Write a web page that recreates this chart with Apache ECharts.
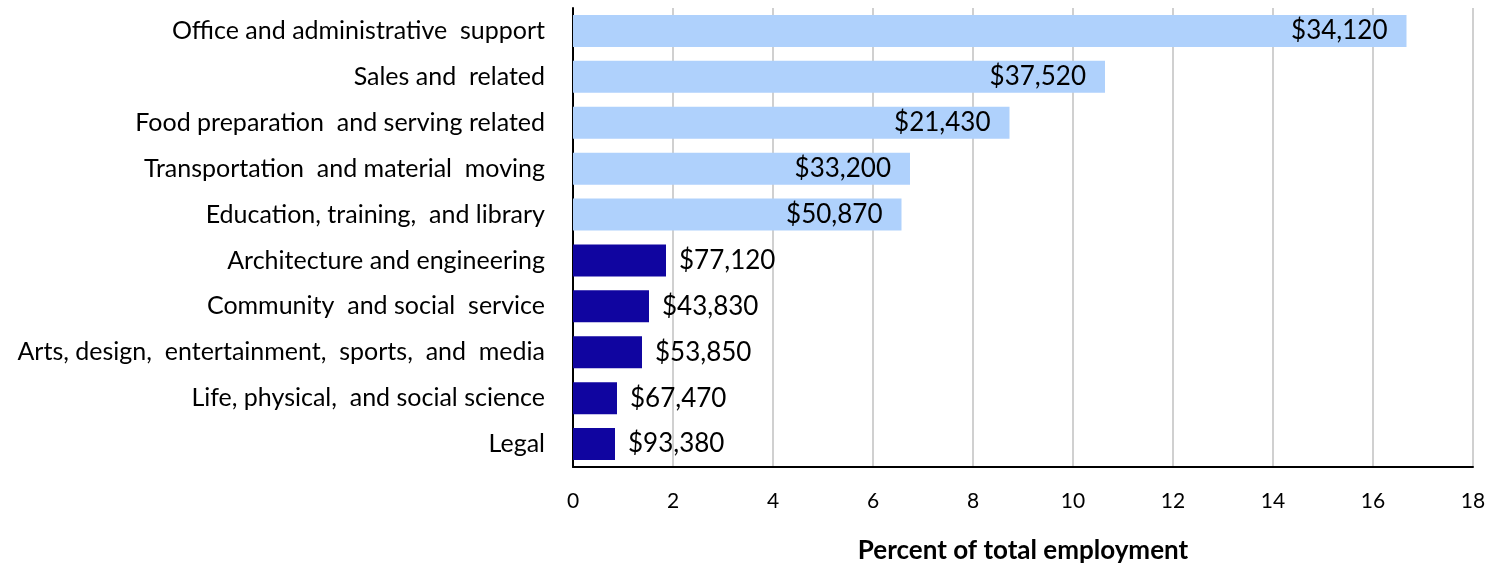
<!DOCTYPE html>
<html>
<head>
<meta charset="utf-8">
<script src="https://cdn.jsdelivr.net/npm/echarts@6/dist/echarts.min.js"></script>
<style>
html,body{margin:0;padding:0;background:#fff;}
#chart{width:1499px;height:569px;}
</style>
</head>
<body>
<div id="chart"></div>
<script>
const categories = [
  'Office and administrative  support',
  'Sales and  related',
  'Food preparation  and serving related',
  'Transportation  and material  moving',
  'Education, training,  and library',
  'Architecture and engineering',
  'Community  and social  service',
  'Arts, design,  entertainment,  sports,  and  media',
  'Life, physical,  and social science',
  'Legal'
];
const percentOfEmployment = [16.67, 10.64, 8.73, 6.74, 6.57, 1.86, 1.52, 1.38, 0.88, 0.84];
const medianWages = ['$34,120', '$37,520', '$21,430', '$33,200', '$50,870', '$77,120', '$43,830', '$53,850', '$67,470', '$93,380'];
const groups = ['largest', 'largest', 'largest', 'largest', 'largest', 'smallest', 'smallest', 'smallest', 'smallest', 'smallest'];
const xTicks = [0, 2, 4, 6, 8, 10, 12, 14, 16, 18];

const FONT = 'Lato, "Open Sans", sans-serif';
const colorFor = { largest: '#AFD1FC', smallest: '#1005A0' };

const seriesData = percentOfEmployment.map((v, i) => ({
  value: v,
  itemStyle: { color: colorFor[groups[i]] },
  label: groups[i] === 'largest'
    ? { position: 'insideRight', distance: 19 }
    : { position: 'right', distance: 13 }
}));

const chart = echarts.init(document.getElementById('chart'), null, { renderer: 'canvas' });
chart.setOption({
  animation: false,
  backgroundColor: '#ffffff',
  grid: { left: 573, right: 26, top: 8, bottom: 97, containLabel: false },
  xAxis: {
    type: 'value',
    min: xTicks[0],
    max: xTicks[xTicks.length - 1],
    interval: 2,
    name: 'Percent of total employment',
    nameLocation: 'middle',
    nameGap: 71,
    nameTextStyle: { fontFamily: FONT, fontSize: 26, fontWeight: 'bold', color: '#000' },
    axisLine: { show: true, lineStyle: { color: '#000', width: 2 } },
    axisTick: { show: false },
    axisLabel: { fontFamily: FONT, fontSize: 21, color: '#000', margin: 24 },
    splitLine: { show: true, lineStyle: { color: '#d0d0d0', width: 2 } }
  },
  yAxis: {
    type: 'category',
    inverse: true,
    data: categories,
    axisLine: { show: true, lineStyle: { color: '#000', width: 2 } },
    axisTick: { show: false },
    axisLabel: { fontFamily: FONT, fontSize: 25, color: '#000', margin: 28 }
  },
  series: [{
    type: 'bar',
    data: seriesData,
    barWidth: 32,
    label: {
      show: true,
      fontFamily: FONT,
      fontSize: 26,
      color: '#000',
      formatter: p => medianWages[p.dataIndex]
    }
  }]
});
</script>
</body>
</html>
